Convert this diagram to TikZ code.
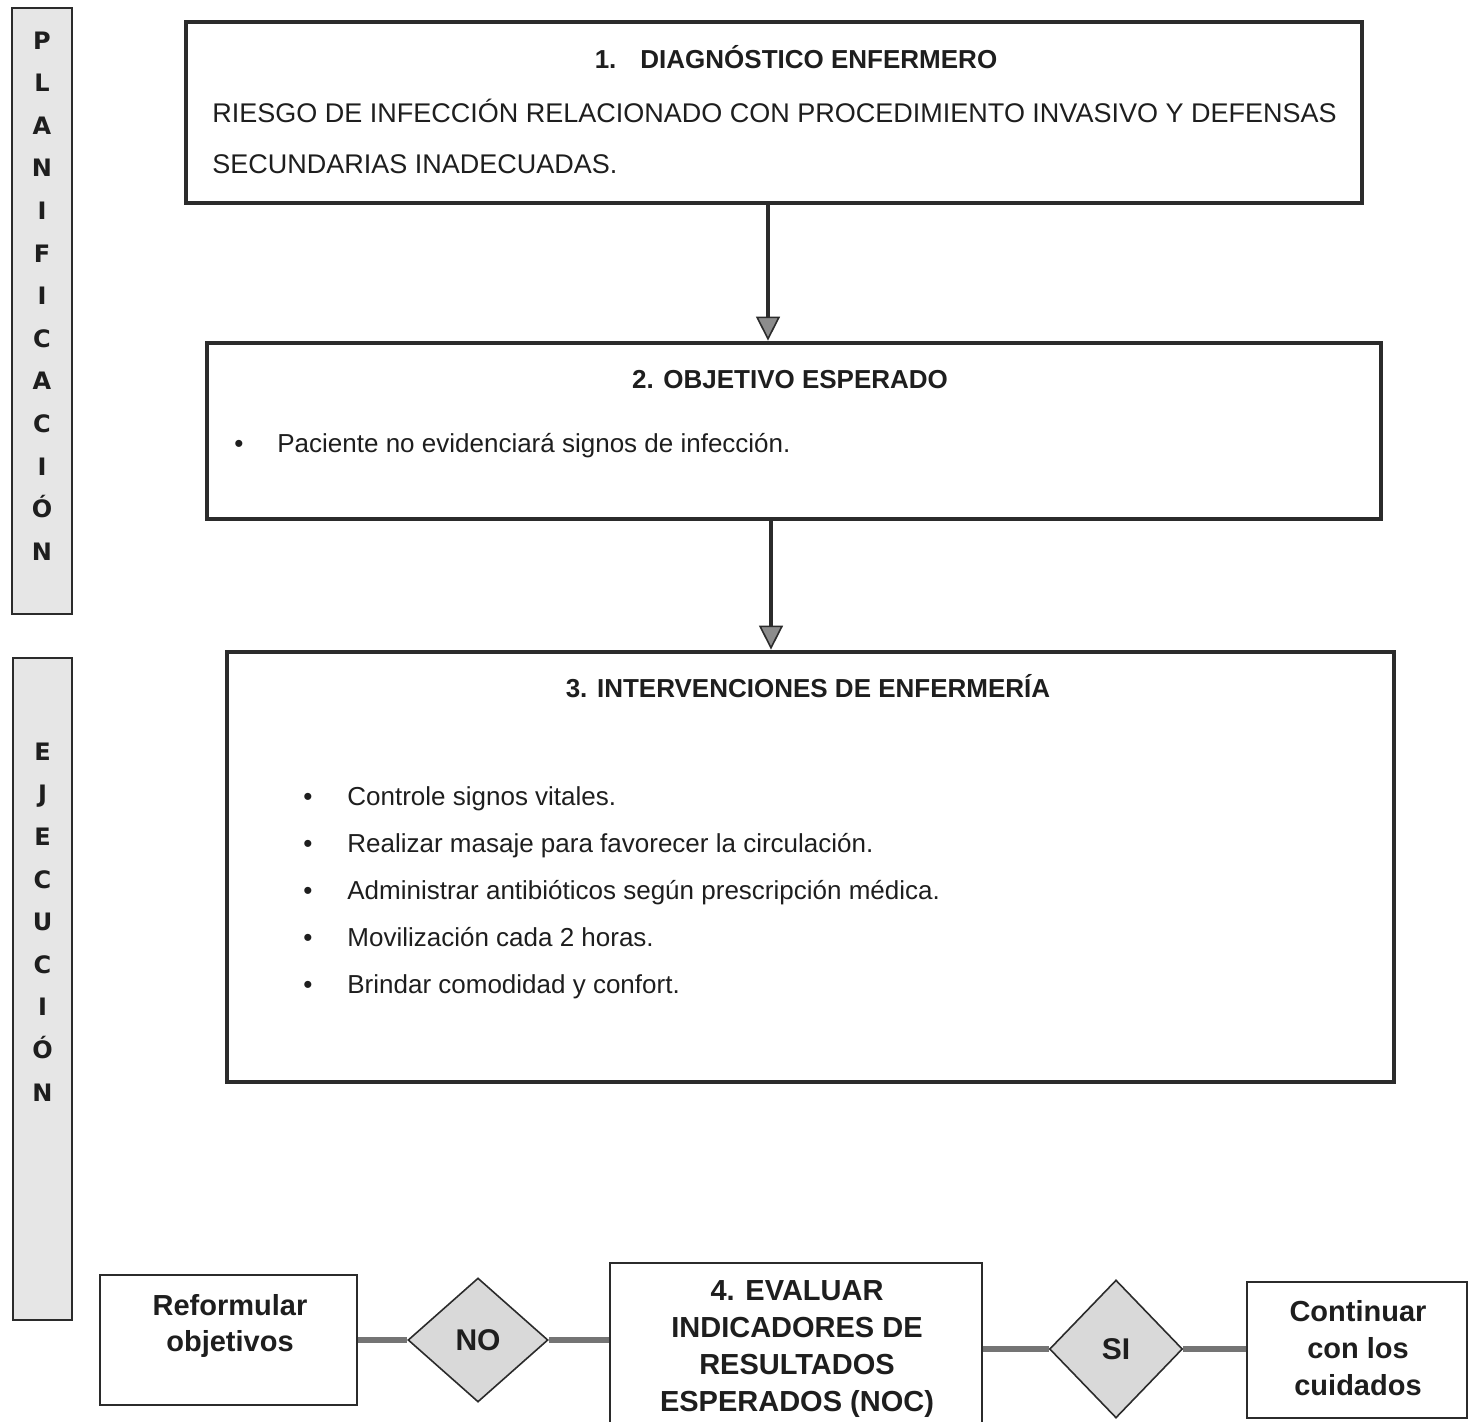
\documentclass[tikz,border=0pt]{standalone}
\usepackage{fontspec}
\setmainfont{Liberation Sans}
\newfontfamily\sidefont{DejaVu Sans}
\usetikzlibrary{arrows.meta,positioning,shapes.geometric}
\definecolor{boxline}{HTML}{2B2B2B}
\definecolor{txt}{HTML}{1E1E1E}
\definecolor{sidegray}{HTML}{E6E6E6}
\definecolor{decgray}{HTML}{D9D9D9}
\definecolor{tipgray}{HTML}{8C8C8C}
\definecolor{linkgray}{HTML}{747474}

\begin{document}
\begin{tikzpicture}[x=0.5pt,y=-0.5pt,
    bigbox/.style={rectangle,draw=boxline,line width=2.4pt,inner sep=0pt},
    smallbox/.style={rectangle,draw=boxline,line width=1.2pt,fill=white,inner sep=0pt},
    sidebox/.style={rectangle,draw=boxline,line width=1pt,fill=sidegray,inner sep=0pt},
    sidetxt/.style={font=\sidefont\bfseries\fontsize{12}{21.3}\selectfont,align=center,text=txt,inner sep=0pt},
    dec/.style={diamond,draw=boxline,line width=0.8pt,fill=decgray,inner sep=0pt,text=txt,font=\bfseries\fontsize{15}{18}\selectfont},
    ttl/.style={font=\bfseries\fontsize{13}{16}\selectfont,text=txt,inner sep=0pt},
    body/.style={font=\fontsize{13}{25.5}\selectfont,align=left,text=txt,inner sep=0pt},
    btxt/.style={font=\bfseries\fontsize{14.5}{18.4}\selectfont,align=center,text=txt,inner sep=0pt},
    arr/.style={line width=2pt,draw=boxline,-{Triangle[length=12pt,width=12pt,line width=0.8pt,fill=tipgray]}},
    link/.style={line width=2.6pt,draw=linkgray}
]
\useasboundingbox (0,0) rectangle (1476,1422);

\node[sidebox,minimum width=30pt,minimum height=303pt] (planBox) at (42,311) {};
\node[sidetxt] (planTxt) at (42,296) {P\\L\\A\\N\\I\\F\\I\\C\\A\\C\\I\\Ó\\N};
\node[sidebox,minimum width=29.5pt,minimum height=331pt] (ejecBox) at (42.5,989) {};
\node[sidetxt] (ejecTxt) at (42.5,922) {E\\J\\E\\C\\U\\C\\I\\Ó\\N};

\node[bigbox,minimum width=588pt,minimum height=90.5pt] (diag) at (774,112.5) {};
\node[ttl] (diagTtl) at (796,57) {1.\hspace{12pt}DIAGNÓSTICO ENFERMERO};
\node[body,anchor=west,font=\fontsize{13.5}{25.5}\selectfont] (diagTxt) at (212,136) {RIESGO DE INFECCIÓN RELACIONADO CON PROCEDIMIENTO INVASIVO Y DEFENSAS\\SECUNDARIAS INADECUADAS.};

\node[bigbox,minimum width=587pt,minimum height=88pt] (obj) at (794,431) {};
\node[ttl] (objTtl) at (790,380) {2. OBJETIVO ESPERADO};
\node[body,anchor=west] (objTxt) at (234,446) {\makebox[21.5pt][l]{\textbullet}Paciente no evidenciará signos de infección.};

\node[bigbox,minimum width=583.5pt,minimum height=215pt] (interv) at (810.5,867) {};
\node[ttl] (intervTtl) at (808,686) {3. INTERVENCIONES DE ENFERMERÍA};
\node[body,anchor=west,font=\fontsize{13}{23.5}\selectfont] (intervTxt) at (303,893) {\makebox[22pt][l]{\textbullet}Controle signos vitales.\\
\makebox[22pt][l]{\textbullet}Realizar masaje para favorecer la circulación.\\
\makebox[22pt][l]{\textbullet}Administrar antibióticos según prescripción médica.\\
\makebox[22pt][l]{\textbullet}Movilización cada 2 horas.\\
\makebox[22pt][l]{\textbullet}Brindar comodidad y confort.};

\draw[arr] (diag.south -| 768,0) -- (obj.north -| 768,0);
\draw[arr] (obj.south -| 771,0) -- (interv.north -| 771,0);

\node[smallbox,minimum width=128.5pt,minimum height=65pt] (reform) at (228.5,1340) {};
\node[btxt] (reformTxt) at (230,1326) {Reformular\\objetivos};
\node[dec,minimum width=70pt,minimum height=62pt] (noD) at (478,1340) {NO};
\node[smallbox,minimum width=186pt,minimum height=81.5pt] (evalB) at (796,1344.5) {};
\node[btxt] (evalTxt) at (797,1349) {4. EVALUAR\\INDICADORES DE\\RESULTADOS\\ESPERADOS (NOC)};
\node[dec,minimum width=66.5pt,minimum height=69pt] (siD) at (1116,1349) {SI};
\node[smallbox,minimum width=110pt,minimum height=68pt] (cont) at (1357,1350) {};
\node[btxt] (contTxt) at (1358,1348) {Continuar\\con los\\cuidados};

\draw[link] (reform.east) -- (noD.west);
\draw[link] (noD.east) -- (noD.east -| evalB.west);
\draw[link] (siD.west -| evalB.east) -- (siD.west);
\draw[link] (siD.east) -- (siD.east -| cont.west);
\end{tikzpicture}
\end{document}
